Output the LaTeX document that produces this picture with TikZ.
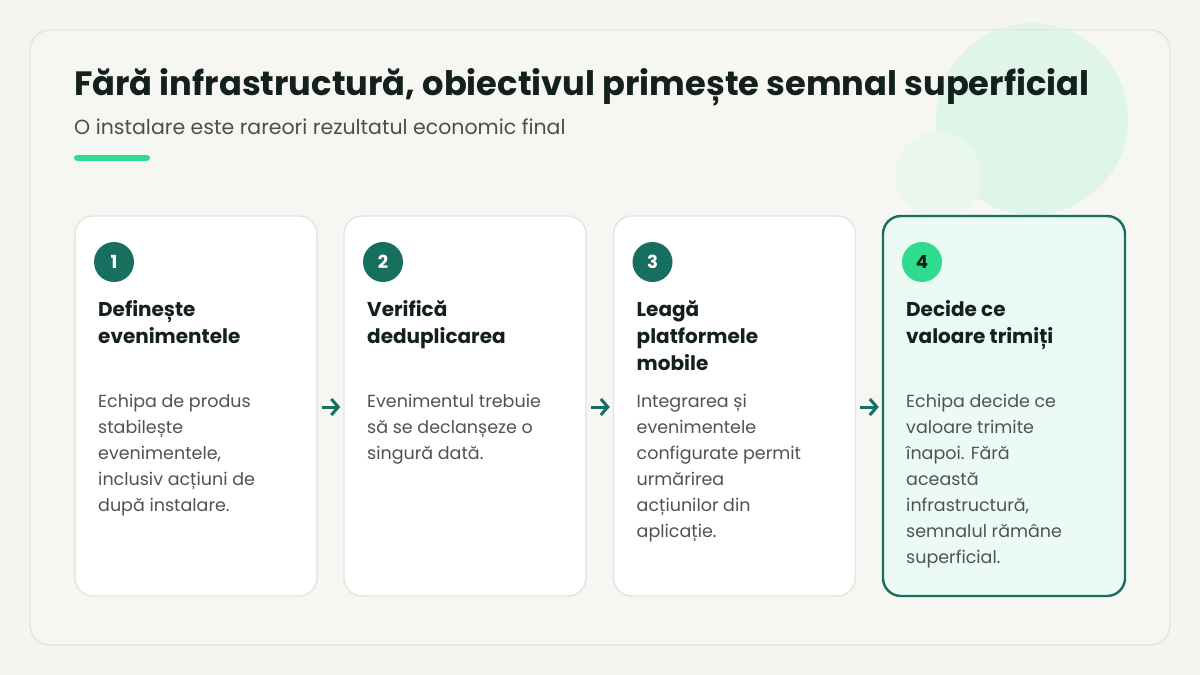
\documentclass[tikz,border=0pt]{standalone}
\usepackage{fontspec}
\setmainfont{Poppins}
\usetikzlibrary{arrows.meta}
\definecolor{bg}{HTML}{F4F5F1}
\definecolor{panel}{HTML}{F6F7F3}
\definecolor{panelline}{HTML}{E3E5E0}
\definecolor{cardline}{HTML}{E2E4DF}
\definecolor{teal}{HTML}{17705F}
\definecolor{mint}{HTML}{2FDC8F}
\definecolor{ink}{HTML}{14201B}
\definecolor{bodytxt}{HTML}{4E5451}
\definecolor{subtxt}{HTML}{4A504D}
\definecolor{bubble}{HTML}{E0F5EA}
\definecolor{bubbletwo}{HTML}{E9F7EF}
\definecolor{cardfour}{HTML}{EBFAF3}
\begin{document}
\begin{tikzpicture}[x=1pt,y=-1pt,
  card/.style={draw=cardline, fill=white, line width=1.4pt, rounded corners=18pt,
    minimum width=242pt, minimum height=380pt, inner sep=0pt},
  hotcard/.style={card, draw=teal, fill=cardfour, line width=2.4pt},
  num/.style={circle, fill=teal, text=white, minimum size=40pt, inner sep=0pt,
    font=\bfseries\fontsize{18}{18}\selectfont},
  hotnum/.style={num, fill=mint, text=ink},
  head/.style={anchor=base west, align=left, inner sep=0pt, text=ink,
    font=\bfseries\fontsize{20}{27}\selectfont},
  bodyt/.style={anchor=base west, align=left, inner sep=0pt, text=bodytxt,
    font=\fontsize{17.5}{26}\selectfont},
  flow/.style={draw=teal, line width=3pt, -{Straight Barb[length=7pt,width=16pt]}}
]
\useasboundingbox (0,0) rectangle (1200,675);
\fill[bg] (0,0) rectangle (1200,675);
\fill[panel, rounded corners=20pt] (30,30) rectangle (1170,645);
\fill[bubble] (1032,119) circle (96);
\fill[bubbletwo] (938,175) circle (43);
\draw[panelline, line width=1.4pt, rounded corners=20pt] (30,30) rectangle (1170,645);

\node[anchor=base west, inner sep=0pt, text=ink, font=\bfseries\fontsize{33.7}{40}\selectfont] (title) at (74,95)
  {Fără infrastructură, obiectivul primește semnal superficial};
\node[anchor=base west, inner sep=0pt, text=subtxt, font=\fontsize{20.5}{24}\selectfont] (sub) at (74,134)
  {O instalare este rareori rezultatul economic final};
\draw[mint, line width=6pt, line cap=round] (77,158) -- (147,158);

\node[card] (c1) at (196,406) {};
\node[card] (c2) at (465,406) {};
\node[card] (c3) at (734.5,406) {};
\node[hotcard] (c4) at (1004,406) {};

\node[num] (n1) at (114,262) {1};
\node[num] (n2) at (383,262) {2};
\node[num] (n3) at (652.5,262) {3};
\node[hotnum] (n4) at (922,262) {4};

% base anchor of a multi-line node is the last line's baseline
\node[head] (h1) at (98,343) {Definește\\evenimentele};
\node[head] (h2) at (367,343) {Verifică\\deduplicarea};
\node[head] (h3) at (636.5,370) {Leagă\\platformele\\mobile};
\node[head] (h4) at (906,343) {Decide ce\\valoare trimiți};

\node[bodyt] (b1) at (98,511) {Echipa de produs\\stabilește\\evenimentele,\\inclusiv acțiuni de\\după instalare.};
\node[bodyt] (b2) at (367,459) {Evenimentul trebuie\\să se declanșeze o\\singură dată.};
\node[bodyt] (b3) at (636.5,537) {Integrarea și\\evenimentele\\configurate permit\\urmărirea\\acțiunilor din\\aplicație.};
\node[bodyt] (b4) at (906,563) {Echipa decide ce\\valoare trimite\\înapoi. Fără\\această\\infrastructură,\\semnalul rămâne\\superficial.};

\draw[flow] ([xshift=4pt,yshift=-1pt]c1.east) -- ([xshift=-3pt,yshift=-1pt]c2.west);
\draw[flow] ([xshift=4pt,yshift=-1pt]c2.east) -- ([xshift=-3pt,yshift=-1pt]c3.west);
\draw[flow] ([xshift=4pt,yshift=-1pt]c3.east) -- ([xshift=-3pt,yshift=-1pt]c4.west);
\end{tikzpicture}
\end{document}
